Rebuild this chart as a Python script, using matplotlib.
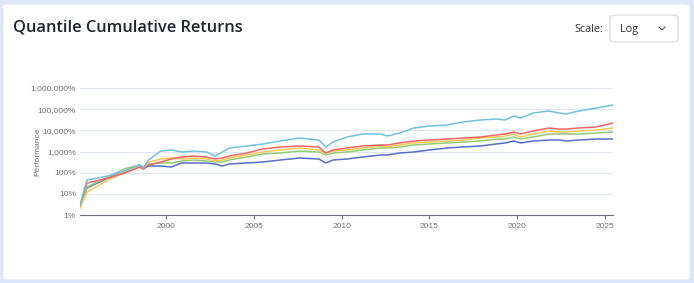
import matplotlib
matplotlib.use("Agg")
import matplotlib.pyplot as plt
from matplotlib.patches import FancyBboxPatch
from matplotlib.lines import Line2D
from matplotlib.ticker import FixedLocator, FuncFormatter, NullLocator

# time points (fractional years)
years = [1995.1, 1995.5, 1996.7, 1997.6, 1998.5, 1998.7, 1999.0, 1999.7, 2000.3, 2000.9,
         2001.6, 2002.3, 2002.8, 2003.2, 2003.6, 2004.6, 2005.5, 2006.5, 2007.6, 2008.7,
         2009.1, 2009.5, 2010.3, 2011.2, 2012.2, 2012.6, 2013.3, 2014.1, 2015.0, 2016.0,
         2016.9, 2017.9, 2018.8, 2019.3, 2019.8, 2020.2, 2020.9, 2021.8, 2022.4, 2022.8,
         2023.5, 2024.5, 2025.45]

# cumulative returns in percent
q1 = [3, 19, 56, 96, 185, 149, 206, 206, 185, 286,
      286, 286, 257, 206, 257, 286, 319, 396, 493, 442,
      286, 396, 442, 549, 683, 683, 849, 946, 1180, 1460,
      1630, 1820, 2260, 2520, 3130, 2520, 3130, 3490, 3490, 3130,
      3490, 3890, 3890]
q2 = [2.7, 21, 62, 149, 230, 185, 257, 286, 286, 356,
      396, 356, 319, 319, 396, 549, 761, 849, 1050, 946,
      683, 849, 946, 1180, 1460, 1460, 1630, 2030, 2260, 2520,
      2810, 3130, 3890, 3890, 4830, 3890, 4830, 6700, 6700, 6700,
      6700, 7470, 8330]
q3 = [2.1, 12, 45, 96, 185, 149, 319, 442, 493, 442,
      493, 442, 356, 396, 493, 683, 946, 1180, 1460, 1180,
      849, 1050, 1180, 1460, 1820, 1630, 2030, 2520, 2810, 3130,
      3490, 4340, 4830, 5390, 6700, 4830, 6700, 9290, 8330, 8330,
      9290, 10400, 12900]
q4 = [3, 32, 56, 96, 185, 149, 230, 319, 442, 549,
      612, 549, 442, 493, 612, 849, 1310, 1630, 1820, 1630,
      849, 1180, 1460, 1820, 2030, 2030, 2520, 3130, 3490, 3890,
      4340, 4830, 6010, 6700, 8330, 6700, 9290, 12900, 11500, 11500,
      12900, 14400, 22200]
q5 = [3, 45, 70, 120, 230, 166, 396, 1050, 1180, 946,
      1050, 946, 612, 946, 1460, 1820, 2260, 3130, 4340, 3490,
      1630, 2810, 4830, 6700, 6700, 5390, 7470, 12900, 16000, 17800,
      24700, 30700, 34300, 30700, 47500, 38200, 65800, 81800, 65800, 59000,
      81800, 113000, 157000]

series = [q1, q2, q3, q4, q5]
colors = ["#5470c6", "#91cc75", "#fac858", "#ee6666", "#73c0de"]
y_ticks = [1, 10, 100, 1000, 10000, 100000, 1000000]
x_ticks = [2000, 2005, 2010, 2015, 2020, 2025]

W, H = 694, 283
fig = plt.figure(figsize=(W / 100, H / 100), dpi=100)
fig.patch.set_facecolor("#dce8f8")

# white card
card = FancyBboxPatch((3 / W, 3 / H), 687 / W, 276 / H,
                      boxstyle="round,pad=0,rounding_size=0.008",
                      transform=fig.transFigure, facecolor="white",
                      edgecolor="#e4ecf7", linewidth=0.8, zorder=-10)
fig.patches.append(card)

fig.text(13 / W, 1 - 31 / H, "Quantile Cumulative Returns", fontsize=11.8,
         family="Open Sans", fontweight="semibold", color="#1f2430", va="baseline")

# scale dropdown
fig.text(603 / W, 1 - 32 / H, "Scale:", fontsize=7.8, family="Open Sans",
         color="#333", ha="right", va="baseline")
box = FancyBboxPatch((610 / W, 1 - 42 / H), 68 / W, 27 / H,
                     boxstyle="round,pad=0,rounding_size=0.01",
                     transform=fig.transFigure, facecolor="white",
                     edgecolor="#d4d8de", linewidth=0.8, zorder=-5)
fig.patches.append(box)
fig.text(620 / W, 1 - 32 / H, "Log", fontsize=7.8, family="Open Sans",
         color="#333", va="baseline")
fig.lines.append(Line2D([659 / W, 662 / W, 665 / W], [1 - 27 / H, 1 - 30 / H, 1 - 27 / H],
                        transform=fig.transFigure, color="#555", lw=0.8))

ax = fig.add_axes([80 / W, 1 - 215 / H, 533 / W, 127 / H])
ax.set_facecolor("none")
for s, c in zip(series, colors):
    ax.plot(years, s, color=c, lw=1.1, solid_joinstyle="round")

ax.set_yscale("log")
ax.set_ylim(1, 1e6)
ax.set_xlim(years[0], years[-1])
ax.yaxis.set_major_locator(FixedLocator(y_ticks))
ax.yaxis.set_minor_locator(NullLocator())
ax.yaxis.set_major_formatter(FuncFormatter(lambda v, p: f"{int(round(v)):,}%"))
ax.set_xticks(x_ticks)
ax.set_xticklabels([str(x) for x in x_ticks])
ax.grid(axis="y", color="#e0e6f1", lw=0.8)
ax.set_axisbelow(True)
for side in ["top", "right", "left"]:
    ax.spines[side].set_visible(False)
ax.spines["bottom"].set_color("#6e7079")
ax.spines["bottom"].set_linewidth(0.8)
ax.tick_params(axis="y", length=0, pad=3, labelsize=6, labelcolor="#6e7079")
ax.tick_params(axis="x", length=3, width=0.8, color="#6e7079", pad=3,
               labelsize=6, labelcolor="#6e7079")
for lab in ax.get_xticklabels() + ax.get_yticklabels():
    lab.set_family("Liberation Sans")
ax.set_ylabel("Performance", fontsize=6, color="#6e7079", family="Liberation Sans")
ax.yaxis.set_label_coords(-0.072, 0.5)

fig.savefig("out.png", dpi=100)
